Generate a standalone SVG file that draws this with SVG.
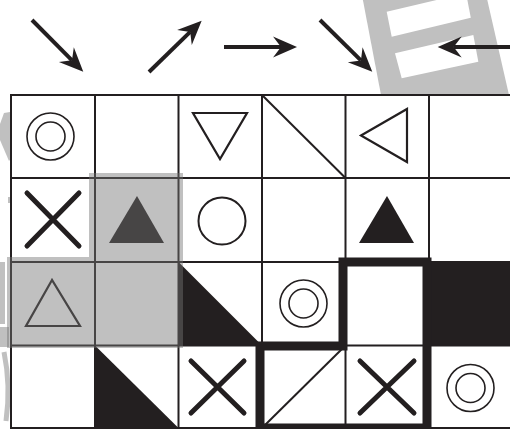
<svg xmlns="http://www.w3.org/2000/svg" width="510" height="429" viewBox="0 0 510 429">
<defs>
<style>
.grid{stroke:#231f20;stroke-width:2;fill:none}
.ring{stroke:#231f20;stroke-width:1.6;fill:none}
.line{stroke:#231f20;stroke-width:2;fill:none}
.tri{stroke:#231f20;stroke-width:2.2;fill:none;stroke-linejoin:miter}
.x{stroke:#231f20;stroke-width:5;stroke-linecap:round;fill:none}
.solid{fill:#231f20}
.wm{fill:#c0c0c0}
.arrow{stroke:#231f20;stroke-width:4;fill:none;marker-end:url(#head)}
.bold{stroke:#231f20;stroke-width:9;fill:none;stroke-linejoin:miter}
.hl{fill:#737373;fill-opacity:0.45}
</style>
<marker id="head" markerUnits="userSpaceOnUse" markerWidth="28" markerHeight="24" viewBox="-10 -12 28 24" refX="0" refY="0" orient="auto" overflow="visible">
<path d="M16,0 L-8,-10.5 L0,0 L-8,10.5 Z" fill="#231f20"/>
</marker>
</defs>
<rect x="0" y="0" width="510" height="429" fill="#fff"/>
<!-- watermark -->
<g id="watermark">
<polygon class="wm" points="361,-10 485,-10 509,95 381,95"/>
<polygon fill="#fff" points="386.7,11.7 466,-6.9 470.8,17.7 391.7,36.7"/>
<polygon fill="#fff" points="395,53.3 473.3,35 478.3,61.7 401.7,78.3"/>
<path class="wm" d="M4,113 L10,112 L11.5,158 L9,161 L3,147 L0,140 L0,124 Z"/>
<rect class="wm" x="8" y="197" width="2.5" height="6"/>
<rect class="wm" x="0" y="262" width="5" height="62"/>
<rect class="wm" x="0" y="327" width="9" height="20"/>
<path d="M4,352 Q11,386 6,421" stroke="#c0c0c0" stroke-width="5" fill="none"/>
</g>
<rect x="11" y="95" width="501" height="333" fill="#fff"/>
<!-- cells -->
<g id="cell-r0c0"><circle class="ring" cx="50.5" cy="136.5" r="23.5"/><circle class="ring" cx="50.5" cy="136.5" r="14.5"/></g>
<g id="cell-r0c1"></g>
<g id="cell-r0c2"><polygon class="tri" points="193,113 247,113 220,159"/></g>
<g id="cell-r0c3"><line class="line" x1="262" y1="95" x2="345.5" y2="178"/></g>
<g id="cell-r0c4"><polygon class="tri" points="361,135.5 407,109 407,162"/></g>
<g id="cell-r1c0"><path class="x" d="M27,193 L79,246 M79,193 L27,246"/></g>
<g id="cell-r1c1"><polygon class="solid" points="137,196 109,243 164,243"/></g>
<g id="cell-r1c2"><circle class="line" cx="222" cy="221" r="23.5"/></g>
<g id="cell-r1c4"><polygon class="solid" points="387,196 359,243 414,243"/></g>
<g id="cell-r2c0"><polygon class="tri" points="52,280 26,326 80,326"/></g>
<g id="cell-r2c2"><polygon class="solid" points="178.5,262 178.5,345.5 262,345.5"/></g>
<g id="cell-r2c3"><circle class="ring" cx="303.5" cy="303.5" r="23.5"/><circle class="ring" cx="303.5" cy="303.5" r="14.5"/></g>
<g id="cell-r2c5"><rect class="solid" x="429" y="262" width="83" height="83.5"/></g>
<g id="cell-r3c1"><polygon class="solid" points="95,345.5 95,428 178.5,428"/></g>
<g id="cell-r3c2"><path class="x" d="M191,361 L244,413 M244,361 L191,413"/></g>
<g id="cell-r3c3"><line class="line" x1="262" y1="428" x2="345.5" y2="345.5"/></g>
<g id="cell-r3c4"><path class="x" d="M360,361 L414,413 M414,361 L360,413"/></g>
<g id="cell-r3c5"><circle class="ring" cx="470.5" cy="388" r="23.5"/><circle class="ring" cx="470.5" cy="388" r="14.5"/></g>
<!-- grid -->
<g id="grid">
<path class="grid" d="M11,95 H512 M11,178 H512 M11,262 H512 M11,345.5 H512 M11,428 H512"/>
<path class="grid" d="M11,94 V429 M95,94 V429 M178.5,94 V429 M262,94 V429 M345.5,94 V429 M429,94 V429"/>
</g>
<g id="bold-region"><path class="bold" d="M260,428 V346 H343 V262 H427 V428 Z"/></g>
<g id="highlight"><polygon class="hl" points="89,173 183,173 183,348 7,348 7,257 89,257"/></g>
<!-- connectors -->
<g id="arrows">
<path class="arrow" d="M32,20 L72,60.3"/>
<path class="arrow" d="M149,72 L190.2,31.9"/>
<path class="arrow" d="M224,47 L281,47"/>
<path class="arrow" d="M320,20 L360.9,60.4"/>
<path class="arrow" d="M512,47 L453.7,47"/>
</g>
</svg>
